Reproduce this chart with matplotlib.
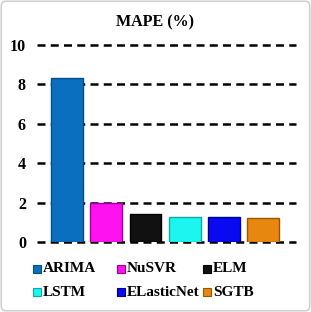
import matplotlib.pyplot as plt
from matplotlib.patches import Rectangle, FancyBboxPatch
import numpy as np

models = ["ARIMA", "NuSVR", "ELM", "LSTM", "ELasticNet", "SGTB"]
mape = [8.3, 2.0, 1.42, 1.27, 1.27, 1.22]
colors = ["#0A6FBF", "#FF12F0", "#111111", "#1CF5F0", "#0A0AF0", "#E8870F"]
edges = ["#064C85", "#A0009A", "#000000", "#10A8A5", "#000090", "#9A5500"]
yticks = [0, 2, 4, 6, 8, 10]

W, H = 311, 312
plt.rcParams["font.family"] = ["Liberation Serif", "DejaVu Serif"]
plt.rcParams["font.weight"] = "bold"

fig = plt.figure(figsize=(W / 100, H / 100), dpi=100)
ax = fig.add_axes([37 / W, 1 - 242 / H, 259 / W, 197 / H])

x = np.arange(len(models))
ax.bar(x, mape, width=0.81, color=colors, edgecolor=edges, linewidth=1.0, zorder=3)

ax.set_xlim(-0.76, 5.83)
ax.set_ylim(0, 10)
ax.set_yticks(yticks)
ax.set_yticklabels([str(t) for t in yticks], fontsize=11.5, fontweight="bold")
ax.set_xticks([])
ax.tick_params(axis="y", length=0, pad=8)
for s in ax.spines.values():
    s.set_visible(False)
for t in yticks:
    ax.axhline(t, color="black", linewidth=1.8, dashes=(3.2, 2.1), zorder=1 if t > 0 else 2,
               clip_on=False)

fig.text(0.5, 1 - 22 / H, "MAPE (%)", ha="center", va="center", fontsize=11.5, fontweight="bold")

# legend laid out like the original: 3 equal columns, filled row by row
col_x = [33, 117, 203]
row_y = [269, 292]
sq = 8
for i, (m, c, e) in enumerate(zip(models, colors, edges)):
    px = col_x[i % 3]
    py = row_y[i // 3]
    fig.patches.append(Rectangle((px / W, 1 - (py + sq / 2) / H), sq / W, sq / H,
                                 transform=fig.transFigure, facecolor=c, edgecolor=e, linewidth=0.8))
    fig.text((px + sq + 2) / W, 1 - py / H, m, ha="left", va="center",
             fontsize=11, fontweight="bold")

# light rounded border around the whole figure
border = FancyBboxPatch((0.004, 0.004), 0.992, 0.992, boxstyle="round,pad=0,rounding_size=0.015",
                        transform=fig.transFigure, facecolor="none", edgecolor="#D0D0D0",
                        linewidth=1.2)
fig.patches.append(border)

fig.savefig("out.png", dpi=100)
